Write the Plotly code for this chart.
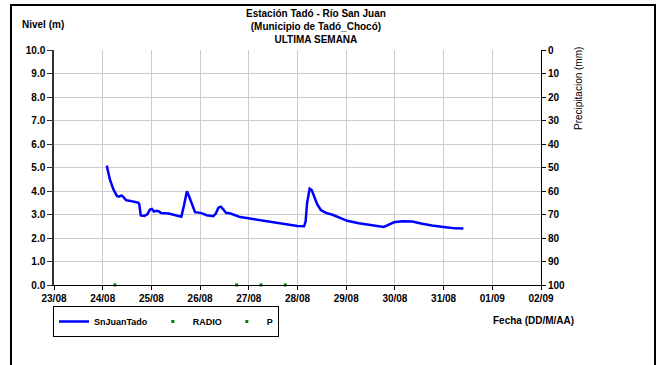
import plotly.graph_objects as go

# ---- data ----
level_time = [
    "2023-08-24 02:00", "2023-08-24 03:30", "2023-08-24 05:15", "2023-08-24 07:00",
    "2023-08-24 08:00", "2023-08-24 09:15", "2023-08-24 10:15", "2023-08-24 11:30",
    "2023-08-24 13:00", "2023-08-24 15:30", "2023-08-24 17:30", "2023-08-24 18:00",
    "2023-08-24 18:45", "2023-08-24 20:30", "2023-08-24 22:00", "2023-08-24 23:15",
    "2023-08-25 00:15", "2023-08-25 01:15", "2023-08-25 02:30", "2023-08-25 03:45",
    "2023-08-25 04:45", "2023-08-25 08:30", "2023-08-25 12:00", "2023-08-25 14:45",
    "2023-08-25 16:00", "2023-08-25 17:30", "2023-08-25 18:30", "2023-08-25 20:15",
    "2023-08-25 21:30", "2023-08-26 00:15", "2023-08-26 03:15", "2023-08-26 06:30",
    "2023-08-26 07:45", "2023-08-26 09:00", "2023-08-26 10:15", "2023-08-26 11:30",
    "2023-08-26 12:45", "2023-08-26 15:00", "2023-08-26 17:15", "2023-08-26 19:45",
    "2023-08-26 23:45", "2023-08-27 04:45", "2023-08-27 11:15", "2023-08-27 19:30",
    "2023-08-28 00:00", "2023-08-28 03:15", "2023-08-28 04:00", "2023-08-28 04:45",
    "2023-08-28 06:00", "2023-08-28 07:00", "2023-08-28 08:15", "2023-08-28 09:45",
    "2023-08-28 11:30", "2023-08-28 14:00", "2023-08-28 17:15", "2023-08-28 21:15",
    "2023-08-29 00:30", "2023-08-29 06:15", "2023-08-29 13:00", "2023-08-29 18:30",
    "2023-08-29 20:15", "2023-08-29 23:30", "2023-08-30 03:30", "2023-08-30 08:30",
    "2023-08-30 13:30", "2023-08-30 18:15", "2023-08-31 01:00", "2023-08-31 05:45",
    "2023-08-31 09:45",
]
level_m = [
    5.08, 4.50, 4.07, 3.79,
    3.76, 3.81, 3.74, 3.61,
    3.59, 3.54, 3.50, 3.45,
    2.96, 2.94, 3.01, 3.21,
    3.24, 3.13, 3.16, 3.13,
    3.06, 3.04, 2.97, 2.91,
    3.36, 3.99, 3.79, 3.36,
    3.10, 3.07, 2.97, 2.93,
    3.04, 3.29, 3.33, 3.21,
    3.07, 3.04, 2.96, 2.89,
    2.84, 2.77, 2.66, 2.56,
    2.51, 2.50, 2.71, 3.50,
    4.10, 4.04, 3.79, 3.43,
    3.19, 3.07, 2.99, 2.83,
    2.73, 2.63, 2.54, 2.47,
    2.54, 2.67, 2.71, 2.70,
    2.61, 2.53, 2.46, 2.41,
    2.40,
]
radio_time = ["2023-08-24 06:00", "2023-08-26 18:00", "2023-08-27 06:00", "2023-08-27 18:00"]
radio_val = [0, 0, 0, 0]
p_time = [None]   # no precipitation data shown
p_mm = [None]

x_range = ["2023-08-23", "2023-09-02"]
level_range = [0, 10]
precip_range = [100, 0]

title_text = "Estación Tadó - Río San Juan<br>(Municipio de Tadó_Chocó)<br>ULTIMA SEMANA"

# ---- layout geometry ----
W, H = 661, 365
L, R, T, B = 54, 120, 50, 80
PW, PH = W - L - R, H - T - B
def fx(p):
    return (p - L) / PW
def fy(p):
    return (H - B - p) / PH

FONT = "Liberation Sans"
BOLD = dict(family=FONT, size=10, color="black", weight="bold")
GRID = "#CCCCCC"
GREEN = "#008000"

fig = go.Figure()
fig.add_trace(go.Scatter(
    x=level_time, y=level_m, mode="lines", name="SnJuanTado",
    line=dict(color="#0000FF", width=2.5), yaxis="y"))
fig.add_trace(go.Scatter(
    x=radio_time, y=radio_val, mode="markers", name="RADIO", cliponaxis=False,
    marker=dict(color=GREEN, size=3, symbol="square"), yaxis="y"))
fig.add_trace(go.Scatter(
    x=p_time, y=p_mm, mode="markers", name="P", cliponaxis=False,
    marker=dict(color=GREEN, size=3, symbol="square"), yaxis="y2"))

fig.update_layout(
    width=W, height=H,
    margin=dict(l=L, r=R, t=T, b=B, pad=0),
    paper_bgcolor="white", plot_bgcolor="white",
    font=dict(family=FONT, size=10, color="black"),
    showlegend=True,
    legend=dict(
        orientation="h", x=fx(53), y=fy(306), xanchor="left", yanchor="top",
        bordercolor="black", borderwidth=1, bgcolor="white",
        font=dict(family=FONT, size=9, color="black", weight="bold"),
        itemwidth=30, tracegroupgap=0, itemsizing="trace",
    ),
    xaxis=dict(
        type="date", range=x_range, dtick=86400000, tickformat="%d/%m",
        tick0="2023-08-23",
        showgrid=True, gridcolor=GRID, gridwidth=1,
        showline=True, linecolor="black", linewidth=1,
        ticks="outside", ticklen=4, tickcolor="black",
        tickfont=BOLD, zeroline=False, fixedrange=True,
    ),
    yaxis=dict(
        range=level_range, dtick=1, tickformat=".1f",
        showgrid=True, gridcolor=GRID, gridwidth=1,
        showline=True, linecolor="#333333", linewidth=1.5,
        ticks="outside", ticklen=5, tickcolor="#333333",
        tickfont=BOLD, zeroline=False,
    ),
    yaxis2=dict(
        range=precip_range, dtick=10, overlaying="y", side="right",
        showgrid=False, showline=True, linecolor="black", linewidth=1,
        ticks="outside", ticklen=4, tickcolor="black",
        tickfont=BOLD, zeroline=False,
    ),
    yaxis3=dict(
        range=precip_range, dtick=10, overlaying="y", side="right",
        showgrid=False, showline=False, showticklabels=False,
        ticks="inside", ticklen=4, tickcolor="black", zeroline=False,
    ),
)

annots = [
    dict(text=title_text, x=fx(316), y=fy(27), xref="paper", yref="paper",
         xanchor="center", yanchor="middle", showarrow=False,
         font=dict(family=FONT, size=10, color="black", weight="bold")),
    dict(text="Nivel (m)", x=fx(20), y=fy(25), xref="paper", yref="paper",
         xanchor="left", yanchor="middle", showarrow=False,
         font=dict(family=FONT, size=10, color="black", weight="bold")),
    dict(text="Precipitacion (mm)", x=fx(578), y=fy(89), xref="paper", yref="paper",
         xanchor="center", yanchor="middle", showarrow=False, textangle=-90,
         font=dict(family=FONT, size=10, color="black")),
    dict(text="Fecha (DD/M/AA)", x=fx(533), y=fy(320), xref="paper", yref="paper",
         xanchor="center", yanchor="middle", showarrow=False,
         font=dict(family=FONT, size=10, color="black", weight="bold")),
]
fig.update_layout(annotations=annots)

fig.add_shape(type="rect", xref="paper", yref="paper",
              x0=fx(11), x1=fx(655), y0=fy(375), y1=fy(5),
              line=dict(color="black", width=2), fillcolor="rgba(0,0,0,0)", layer="above")

fig.write_html("out.html", config={"displayModeBar": False},
               post_script="document.body.style.margin='0px';")
